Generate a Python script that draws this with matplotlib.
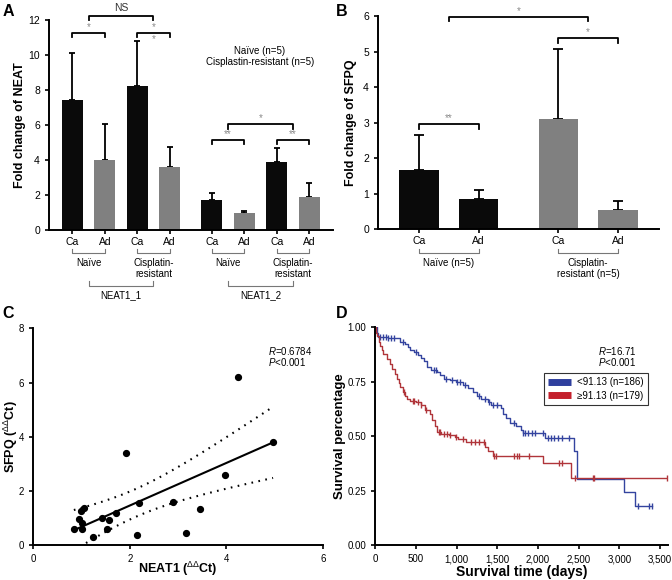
import numpy as np
import matplotlib
matplotlib.use('Agg')
import matplotlib.pyplot as plt
from matplotlib.ticker import FuncFormatter, MultipleLocator

plt.rcParams['font.family'] = ['Liberation Sans', 'DejaVu Sans']
plt.rcParams['mathtext.fontset'] = 'custom'
plt.rcParams['mathtext.rm'] = 'Liberation Sans'
plt.rcParams['mathtext.it'] = 'Liberation Sans:italic'
plt.rcParams['mathtext.bf'] = 'Liberation Sans:bold'
plt.rcParams['axes.linewidth'] = 1.4
plt.rcParams['xtick.major.width'] = 1.2
plt.rcParams['ytick.major.width'] = 1.2
plt.rcParams['xtick.major.size'] = 3
plt.rcParams['ytick.major.size'] = 3

# ---- panel A : NEAT1 fold change
a_ticks = ['Ca', 'Ad', 'Ca', 'Ad', 'Ca', 'Ad', 'Ca', 'Ad']
a_mean = [7.45, 4.0, 8.25, 3.62, 1.7, 0.97, 3.9, 1.9]
a_err = [2.65, 2.05, 2.55, 1.15, 0.43, 0.09, 0.8, 0.8]
a_pairs = ['Naïve', 'Cisplatin-\nresistant', 'Naïve', 'Cisplatin-\nresistant']
a_genes = ['NEAT1_1', 'NEAT1_2']

# ---- panel B : SFPQ fold change
b_ticks = ['Ca', 'Ad', 'Ca', 'Ad']
b_mean = [1.67, 0.84, 3.09, 0.53]
b_err = [0.98, 0.27, 1.97, 0.27]
b_pairs = ['Naïve (n=5)', 'Cisplatin-\nresistant (n=5)']

# ---- panel C : correlation
c_neat = [0.84, 0.95, 0.98, 1.0, 1.01, 1.06, 1.23, 1.42, 1.52, 1.56,
          1.72, 1.92, 2.14, 2.19, 2.90, 3.16, 3.46, 3.98, 4.25, 4.97]
c_sfpq = [0.61, 0.96, 1.27, 0.82, 0.61, 1.38, 0.31, 0.98, 0.61, 0.92,
          1.17, 3.41, 0.36, 1.55, 1.60, 0.44, 1.34, 2.60, 6.19, 3.81]

# ---- panel D : Kaplan-Meier
low_t = [0, 15, 35, 150, 300, 360, 400, 430, 470, 520, 560, 600, 640, 690, 760,
         800, 850, 920, 990, 1080, 1140, 1200, 1250, 1300, 1390, 1420, 1540,
         1570, 1610, 1650, 1730, 1790, 1815, 2090, 2440, 2480, 3050, 3190, 3400]
low_s = [1.0, 0.975, 0.955, 0.95, 0.935, 0.925, 0.91, 0.895, 0.885, 0.875, 0.86,
         0.845, 0.82, 0.805, 0.795, 0.78, 0.765, 0.757, 0.75, 0.735, 0.72, 0.705,
         0.685, 0.67, 0.655, 0.645, 0.63, 0.60, 0.582, 0.56, 0.545, 0.53, 0.515,
         0.49, 0.43, 0.303, 0.245, 0.18, 0.18]
low_cens = [60, 100, 130, 160, 190, 230, 340, 500, 720, 740, 870, 940, 1000,
            1040, 1100, 1280, 1350, 1400, 1440, 1500, 1700, 1820, 1840, 1880,
            1920, 1960, 2060, 2120, 2160, 2200, 2240, 2290, 2380, 3230, 3360, 3400]
high_t = [0, 10, 20, 40, 60, 80, 100, 140, 180, 210, 240, 265, 285, 305, 340,
          370, 390, 430, 500, 560, 610, 670, 700, 735, 755, 810, 900, 980, 1020,
          1120, 1345, 1390, 1450, 2065, 2400, 3590]
high_s = [1.0, 0.975, 0.96, 0.935, 0.915, 0.895, 0.878, 0.856, 0.833, 0.81,
          0.785, 0.765, 0.745, 0.725, 0.705, 0.685, 0.67, 0.663, 0.655, 0.642,
          0.62, 0.60, 0.575, 0.545, 0.52, 0.512, 0.505, 0.497, 0.489, 0.474,
          0.451, 0.43, 0.41, 0.378, 0.31, 0.31]
high_cens = [350, 460, 480, 520, 560, 620, 780, 800, 840, 880, 920, 990, 1080,
             1180, 1230, 1270, 1330, 1460, 1480, 1700, 1740, 1760, 1890, 2260,
             2290, 2450, 2670, 2690, 3590]
km_labels = ['<91.13 (n=186)', '≥91.13 (n=179)']

BLACK = '#0a0a0a'
GREY = '#808080'
STAR = '#8a8a8a'


def sig(ax, x1, x2, y, h, label, dy, color=STAR, fs=7):
    ax.plot([x1, x1, x2, x2], [y - h, y, y, y - h], color='k', lw=1.3, clip_on=False)
    ax.text((x1 + x2) / 2, y + dy, label, ha='center', va='center',
            color=color, fontsize=fs, clip_on=False)


def under(ax, x1, x2, y, h, label, ty, fs=7):
    tr = ax.get_xaxis_transform()
    ax.plot([x1, x1, x2, x2], [y + h, y, y, y + h], color='#777777', lw=0.8,
            transform=tr, clip_on=False)
    ax.text((x1 + x2) / 2, ty, label, ha='center', va='top', fontsize=fs,
            transform=tr, linespacing=1.15)


fig = plt.figure(figsize=(6.72, 5.80), dpi=100)

# ================= A
axA = fig.add_axes([0.0729, 0.6034, 0.4226, 0.3621])
a_pos = [0, 1, 2, 3, 4.3, 5.3, 6.3, 7.3]
a_col = [BLACK if t == 'Ca' else GREY for t in a_ticks]
axA.bar(a_pos, a_mean, width=0.65, color=a_col, zorder=2)
axA.errorbar(a_pos, a_mean, yerr=[np.zeros(len(a_err)), a_err], fmt='none',
             ecolor='k', elinewidth=1.3, capsize=2.5, capthick=1.3, zorder=1)
axA.set_xlim(-0.72, 8.03)
axA.set_ylim(0, 12)
axA.yaxis.set_major_locator(MultipleLocator(2))
axA.set_xticks(a_pos)
axA.set_xticklabels(a_ticks, fontsize=7.5)
axA.tick_params(axis='y', labelsize=7.5)
axA.tick_params(axis='x', pad=2)
for s in ['top', 'right']:
    axA.spines[s].set_visible(False)
axA.set_ylabel('Fold change of NEAT', fontsize=9, fontweight='bold')
axA.yaxis.set_label_coords(-0.08, 0.5)
for i, lab in enumerate(a_pairs):
    under(axA, a_pos[2 * i], a_pos[2 * i + 1], -0.11, 0.02, lab, -0.133)
for i, lab in enumerate(a_genes):
    x1 = (a_pos[4 * i] + a_pos[4 * i + 1]) / 2
    x2 = (a_pos[4 * i + 2] + a_pos[4 * i + 3]) / 2
    under(axA, x1, x2, -0.265, 0.022, lab, -0.285)
sig(axA, a_pos[0], a_pos[1], 11.24, 0.22, '*', 0.38)
sig(axA, a_pos[2], a_pos[3], 11.24, 0.22, '*', 0.38)
axA.text((a_pos[2] + a_pos[3]) / 2, 10.92, '*', ha='center', va='center',
         color=STAR, fontsize=7)
sig(axA, 0.5, 2.5, 12.25, 0.25, 'NS', 0.42, color='#333333', fs=7.5)
sig(axA, a_pos[4], a_pos[5], 5.14, 0.23, '**', 0.32)
sig(axA, a_pos[6], a_pos[7], 5.14, 0.23, '**', 0.32)
sig(axA, (a_pos[4] + a_pos[5]) / 2, (a_pos[6] + a_pos[7]) / 2, 6.04, 0.24, '*', 0.36)
axA.text(5.77, 10.23, 'Naïve (n=5)', ha='center', va='center', fontsize=7)
axA.text(5.77, 9.6, 'Cisplastin-resistant (n=5)', ha='center', va='center', fontsize=7)

# ================= B
axB = fig.add_axes([0.5625, 0.6047, 0.4182, 0.3678])
b_pos = [0, 1, 2.34, 3.34]
b_col = [BLACK, BLACK, GREY, GREY]
axB.bar(b_pos, b_mean, width=0.66, color=b_col, zorder=2)
axB.errorbar(b_pos, b_mean, yerr=[np.zeros(len(b_err)), b_err], fmt='none',
             ecolor='k', elinewidth=1.3, capsize=3.5, capthick=1.3, zorder=1)
axB.set_xlim(-0.69, 4.03)
axB.set_ylim(0, 6)
axB.yaxis.set_major_locator(MultipleLocator(1))
axB.set_xticks(b_pos)
axB.set_xticklabels(b_ticks, fontsize=7.5)
axB.tick_params(axis='y', labelsize=7.5)
axB.tick_params(axis='x', pad=2)
for s in ['top', 'right']:
    axB.spines[s].set_visible(False)
axB.set_ylabel('Fold change of SFPQ', fontsize=9, fontweight='bold')
axB.yaxis.set_label_coords(-0.075, 0.5)
for i, lab in enumerate(b_pairs):
    under(axB, b_pos[2 * i], b_pos[2 * i + 1], -0.111, 0.02, lab, -0.135)
sig(axB, b_pos[0], b_pos[1], 2.95, 0.13, '**', 0.18)
sig(axB, 0.5, (b_pos[2] + b_pos[3]) / 2, 5.98, 0.12, '*', 0.16)
sig(axB, b_pos[2], b_pos[3], 5.37, 0.13, '*', 0.18)

# ================= C
axC = fig.add_axes([0.0496, 0.0603, 0.4307, 0.3736])
xc = np.array(c_neat)
yc = np.array(c_sfpq)
axC.plot(xc, yc, 'o', color='k', ms=4.2, zorder=3)
slope, icpt = np.polyfit(xc, yc, 1)
xx = np.linspace(xc.min(), xc.max(), 100)
fit = slope * xx + icpt
n = len(xc)
resid = yc - (slope * xc + icpt)
s_err = np.sqrt(np.sum(resid ** 2) / (n - 2))
sxx = np.sum((xc - xc.mean()) ** 2)
half = 2.101 * s_err * np.sqrt(1.0 / n + (xx - xc.mean()) ** 2 / sxx)
axC.plot(xx, fit, color='k', lw=1.5)
axC.plot(xx, fit + half, color='k', lw=1.5, ls=(0, (0.8, 2.6)))
axC.plot(xx, fit - half, color='k', lw=1.5, ls=(0, (0.8, 2.6)))
axC.set_xlim(0, 6)
axC.set_ylim(0, 8)
axC.xaxis.set_major_locator(MultipleLocator(2))
axC.yaxis.set_major_locator(MultipleLocator(2))
axC.tick_params(labelsize=7)
for s in ['top', 'right']:
    axC.spines[s].set_visible(False)
axC.set_xlabel(r'NEAT1 ($^{\Delta\Delta}$Ct)', fontsize=9, fontweight='bold')
axC.xaxis.set_label_coords(0.5, -0.068)
axC.set_ylabel(r'SFPQ ($^{\Delta\Delta}$Ct)', fontsize=9, fontweight='bold')
axC.yaxis.set_label_coords(-0.045, 0.5)
axC.text(0.811, 0.895, r'$\mathit{R}$=0.6784', transform=axC.transAxes,
         fontsize=7, va='center')
axC.text(0.811, 0.843, r'$\mathit{P}$<0.001', transform=axC.transAxes,
         fontsize=7, va='center')

# ================= D
axD = fig.add_axes([0.5585, 0.0603, 0.436, 0.3753])
km = [(low_t, low_s, low_cens, '#34449f', '#2f3f9e'),
      (high_t, high_s, high_cens, '#b0353a', '#c4202c')]
handles = []
for (t, s, cens, lc, hc), lab in zip(km, km_labels):
    t = np.array(t)
    s = np.array(s)
    axD.step(t, s, where='post', color=lc, lw=1.0)
    idx = np.searchsorted(t, cens, side='right') - 1
    axD.plot(cens, s[idx], ls='none', marker='|', ms=4, mew=1.0, color=lc)
    h, = axD.plot([], [], color=hc, lw=5, solid_capstyle='butt', label=lab)
    handles.append(h)
axD.set_xlim(0, 3600)
axD.set_ylim(0, 1)
axD.xaxis.set_major_locator(MultipleLocator(500))
axD.yaxis.set_major_locator(MultipleLocator(0.25))
axD.xaxis.set_major_formatter(FuncFormatter(lambda v, p: '{:,}'.format(int(v))))
axD.yaxis.set_major_formatter(FuncFormatter(lambda v, p: '{:.2f}'.format(v)))
axD.tick_params(labelsize=7)
for s in ['top', 'right']:
    axD.spines[s].set_visible(False)
axD.set_xlabel('Survival time (days)', fontsize=10, fontweight='bold', labelpad=1)
axD.set_ylabel('Survival percentage', fontsize=9.5, fontweight='bold')
axD.yaxis.set_label_coords(-0.1, 0.5)
leg = axD.legend(handles=handles, loc='upper left', bbox_to_anchor=(0.576, 0.79),
                 fontsize=7, frameon=True, fancybox=False, edgecolor='k',
                 handlelength=2.4, handletextpad=0.6, borderpad=0.4,
                 labelspacing=0.4, borderaxespad=0)
leg.get_frame().set_linewidth(0.8)
axD.text(0.76, 0.893, r'$\mathit{R}$=16.71', transform=axD.transAxes,
         fontsize=7, va='center')
axD.text(0.76, 0.841, r'$\mathit{P}$<0.001', transform=axD.transAxes,
         fontsize=7, va='center')

# panel letters
for lab, x, y in [('A', 0.004, 0.981), ('B', 0.5, 0.981), ('C', 0.004, 0.46), ('D', 0.5, 0.46)]:
    fig.text(x, y, lab, fontsize=11.5, fontweight='bold', va='center')

fig.savefig('out.png', dpi=100)
